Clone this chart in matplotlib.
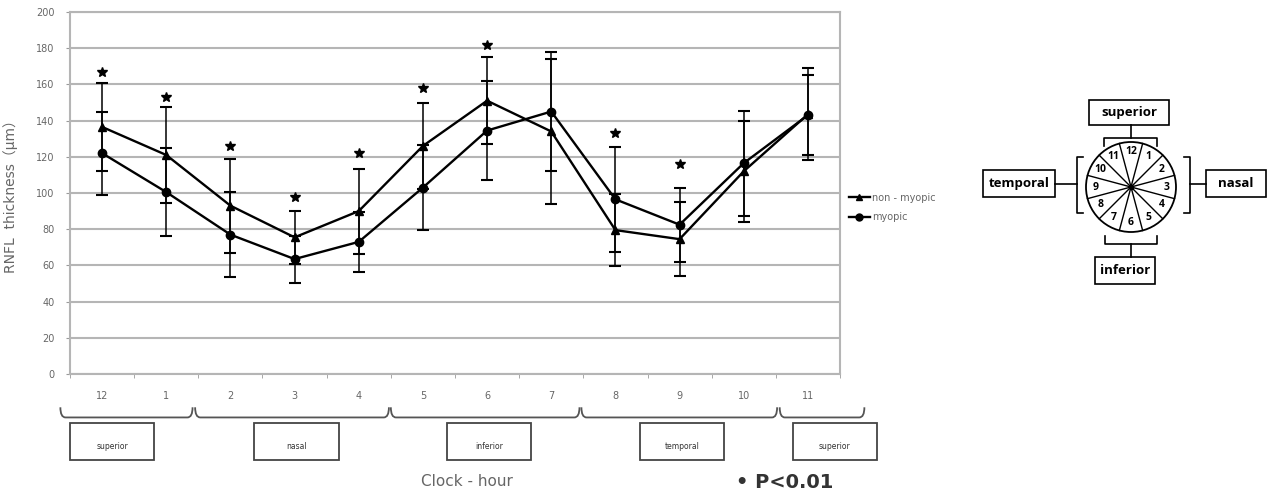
import numpy as np
import matplotlib
matplotlib.use("Agg")
import matplotlib.pyplot as plt
from matplotlib.path import Path
from matplotlib.patches import PathPatch, Rectangle, Circle
from matplotlib.lines import Line2D
import matplotlib.transforms as mtransforms

# =========================
# DATA
# =========================
clock_hours = ["12", "1", "2", "3", "4", "5", "6", "7", "8", "9", "10", "11"]
non_myopic = [136.5, 121, 93, 75.5, 90, 126, 151, 134, 79.5, 74.5, 112, 143.5]
non_myopic_sd = [24.5, 26.5, 26, 14.5, 23.5, 24, 24, 40, 20, 20.5, 28, 25.5]
myopic = [122, 100.5, 77, 63.5, 73, 103, 134.5, 145, 96.5, 82.5, 116.5, 143]
myopic_sd = [23, 24.5, 23.5, 13, 16.5, 23.5, 27.5, 33, 29, 20.5, 29, 22]
# asterisk heights (P<0.01), None = not significant
star_y = [167, 153, 126, 98, 122, 158, 182, None, 133, 116, None, None]

regions = ["superior", "nasal", "inferior", "temporal", "superior"]
region_start = [-0.65, 1.45, 4.5, 7.47, 10.56]
region_end = [1.41, 4.47, 7.44, 10.52, 11.88]
region_box_center = [0.16, 3.03, 6.03, 9.04, 11.42]

GRAY = "#9a9a9a"
TXT = "#666666"

fig = plt.figure(figsize=(12.74, 4.97), dpi=100)
ax = fig.add_axes([70 / 1274, 1 - 374 / 497, 770 / 1274, 362 / 497])

x = np.arange(len(clock_hours))

# =========================
# SERIES
# =========================
ax.errorbar(x, non_myopic, yerr=non_myopic_sd, color="black", lw=1.7,
            marker="^", ms=6, elinewidth=1.1, capsize=4, capthick=1.5, zorder=3)
ax.errorbar(x, myopic, yerr=myopic_sd, color="black", lw=1.7,
            marker="o", ms=6, elinewidth=1.1, capsize=4, capthick=1.5, zorder=3)

sx = [xi for xi, s in zip(x, star_y) if s is not None]
sy = [s for s in star_y if s is not None]
ax.plot(sx, sy, ls="none", marker="*", ms=7, color="black", zorder=4)

# =========================
# AXES STYLE
# =========================
ax.set_xlim(-0.5, 11.5)
ax.set_ylim(0, 200)
ax.set_yticks(np.arange(0, 201, 20))
ax.yaxis.grid(True, color="#b5b5b5", lw=1.5)
ax.set_axisbelow(True)
for sp in ax.spines.values():
    sp.set_color("#b5b5b5")
    sp.set_linewidth(1.5)
ax.set_xticks(x)
ax.set_xticklabels(clock_hours)
ax.set_xticks(np.arange(-0.5, 12, 1), minor=True)
ax.tick_params(axis="x", which="major", length=0, pad=12, labelsize=7, labelcolor=TXT)
ax.tick_params(axis="x", which="minor", length=3, color=GRAY)
ax.tick_params(axis="y", length=3, color=GRAY, labelsize=7, labelcolor=TXT, pad=8)
ax.set_ylabel("RNFL  thickness（μm）", fontsize=10, color=TXT,
              family=["DejaVu Sans", "Noto Sans CJK JP"])
ax.yaxis.set_label_coords(-0.0675, 0.5)

handles = [Line2D([], [], color="black", lw=1.7, marker="^", ms=5),
           Line2D([], [], color="black", lw=1.7, marker="o", ms=5)]
ax.legend(handles, ["non - myopic", "myopic"], loc="center left",
          bbox_to_anchor=(1.0, 0.46), frameon=False, fontsize=7, labelcolor=TXT,
          handlelength=2.2, handletextpad=0.2, labelspacing=1.0)

# =========================
# BRACES + BOXES BELOW AXIS
# =========================
trans = mtransforms.blended_transform_factory(ax.transData, ax.transAxes)
top, bot = -0.092, -0.12
for x0, x1 in zip(region_start, region_end):
    r = 0.08
    verts = [(x0, top), (x0, bot), (x0 + r, bot), (x1 - r, bot), (x1, bot), (x1, top)]
    codes = [Path.MOVETO, Path.CURVE3, Path.CURVE3, Path.LINETO, Path.CURVE3, Path.CURVE3]
    ax.add_patch(PathPatch(Path(verts, codes), transform=trans, fill=False,
                           ec="#555555", lw=1.3, clip_on=False))

for name, c in zip(regions, region_box_center):
    ax.add_patch(Rectangle((c - 0.655, -0.237), 1.31, 0.102, transform=trans,
                           fill=False, ec="#444444", lw=1.3, clip_on=False))
    ax.text(c, -0.2, name, transform=trans, ha="center", va="center",
            fontsize=5.5, color="#333333")

fig.text(467 / 1274, 1 - 482 / 497, "Clock - hour", ha="center", va="center",
         fontsize=11, color=TXT)
fig.text(785 / 1274, 1 - 482 / 497, "• P<0.01", ha="center", va="center",
         fontsize=14, color="#333333", fontweight="bold")

# =========================
# CLOCK DIAGRAM (pixel coords)
# =========================
ov = fig.add_axes([0, 0, 1, 1])
ov.set_xlim(0, 1274)
ov.set_ylim(497, 0)
ov.axis("off")

cx, cy, R = 1131, 187, 45
ov.add_patch(Circle((cx, cy), R, fill=False, ec="black", lw=1.3))
for k in range(12):
    a = np.deg2rad(15 + 30 * k)
    ov.plot([cx, cx + R * np.sin(a)], [cy, cy - R * np.cos(a)], color="black", lw=1.0)
ov.plot(cx, cy, "o", color="black", ms=3)
for k, lab in enumerate(clock_hours):
    a = np.deg2rad(30 * k)
    rr = 0.78 * R
    ov.text(cx + rr * np.sin(a), cy - rr * np.cos(a), lab, ha="center", va="center",
            fontsize=7.5, family="Open Sans", fontweight="bold")

boxes = [("superior", 1089, 100, 80, 25), ("temporal", 983, 170, 72, 27),
         ("nasal", 1206, 170, 60, 27), ("inferior", 1095, 257, 60, 27)]
for name, bx, by, bw, bh in boxes:
    ov.add_patch(Rectangle((bx, by), bw, bh, fill=False, ec="black", lw=1.2))
    ov.text(bx + bw / 2, by + bh / 2, name, ha="center", va="center",
            fontsize=9.5, family="Open Sans", fontweight="bold")

bk = dict(color="black", lw=1.2)
# top bracket
ov.plot([1104, 1104, 1157, 1157], [146, 138, 138, 146], **bk)
ov.plot([1131, 1131], [125, 138], **bk)
# bottom bracket
ov.plot([1105, 1105, 1157, 1157], [236, 244, 244, 236], **bk)
ov.plot([1131, 1131], [244, 257], **bk)
# left bracket
ov.plot([1083, 1077, 1077, 1083], [157, 157, 213, 213], **bk)
ov.plot([1055, 1077], [184, 184], **bk)
# right bracket
ov.plot([1184, 1190, 1190, 1184], [157, 157, 213, 213], **bk)
ov.plot([1190, 1206], [184, 184], **bk)

fig.savefig("out.png", dpi=100)
